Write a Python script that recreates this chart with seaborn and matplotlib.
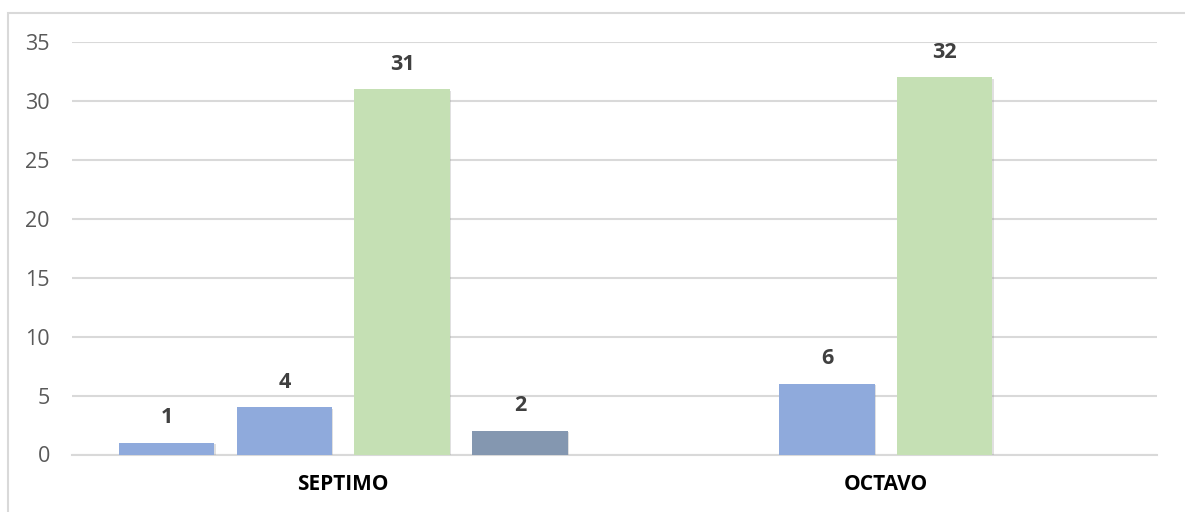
import matplotlib
matplotlib.use("Agg")
import matplotlib.pyplot as plt
import matplotlib.patheffects as pe
from matplotlib.patches import Rectangle
import seaborn as sns
import pandas as pd

# Data
grados = ["SEPTIMO", "OCTAVO"]
series = ["Serie 1", "Serie 2", "Serie 3", "Serie 4"]
septimo = [1, 4, 31, 2]
octavo = [0, 6, 32, 0]
colores = ["#8FAADC", "#8FAADC", "#C5E0B4", "#8497B0"]
yticks = [0, 5, 10, 15, 20, 25, 30, 35]

rows = []
for g, vals in zip(grados, [septimo, octavo]):
    for s, v in zip(series, vals):
        rows.append({"grado": g, "serie": s, "valor": v})
df = pd.DataFrame(rows)

sns.set_theme(style="white")
plt.rcParams["font.family"] = ["Open Sans", "DejaVu Sans"]

fig = plt.figure(figsize=(11.85, 5.12), dpi=100)
ax = fig.add_axes([72 / 1185, 57.5 / 512, 1085 / 1185, 412.5 / 512])

# Outer chart frame
fig.patches.append(Rectangle((8 / 1185, -0.1), 1.2, (512 - 12.5) / 512 + 0.1,
                             transform=fig.transFigure, fill=False,
                             edgecolor="#D9D9D9", linewidth=1.5, zorder=0))

sns.barplot(data=df, x="grado", y="valor", hue="serie", order=grados,
            hue_order=series, palette=colores, width=0.868, gap=0.19,
            saturation=1, legend=False, ax=ax, linewidth=0, zorder=3)

shadow = [pe.SimplePatchShadow(offset=(1.0, -1.0), shadow_rgbFace="#9A9A9A", alpha=0.3),
          pe.Normal()]
for bar in ax.patches:
    h = bar.get_height()
    if h > 0:
        bar.set_path_effects(shadow)
        ax.annotate(f"{int(h)}", (bar.get_x() + bar.get_width() / 2, h),
                    xytext=(0, 18), textcoords="offset points",
                    ha="center", va="center", fontsize=15.5,
                    fontweight="bold", color="#404040")
    else:
        bar.set_visible(False)

ax.set_ylim(0, 35)
ax.set_yticks(yticks)
ax.set_yticklabels([str(t) for t in yticks], fontsize=15.5, color="#595959")
ax.yaxis.grid(True, color="#D9D9D9", linewidth=1.5, zorder=0)
ax.set_axisbelow(True)
ax.tick_params(axis="y", length=0, pad=16)
ax.tick_params(axis="x", length=0, pad=14)
for lab in ax.get_xticklabels():
    lab.set_fontweight("bold")
    lab.set_fontsize(15)
    lab.set_color("#000000")
ax.set_xlabel("")
ax.set_ylabel("")
for side in ["top", "right", "left"]:
    ax.spines[side].set_visible(False)
ax.spines["bottom"].set_color("#D9D9D9")
ax.spines["bottom"].set_linewidth(1.5)

fig.savefig("out.png", dpi=100)
